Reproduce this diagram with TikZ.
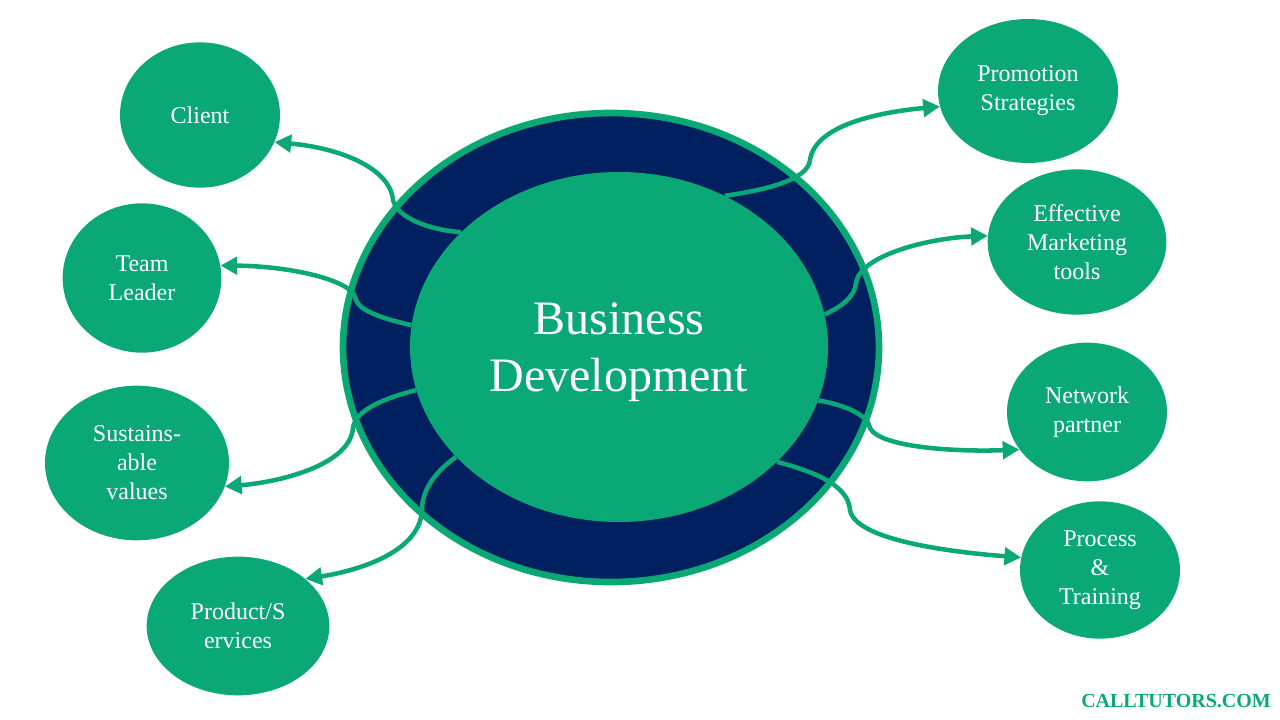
\documentclass[tikz,border=0pt]{standalone}
\usepackage{fontspec}
\setmainfont{Liberation Serif}
\usetikzlibrary{shapes.geometric,arrows.meta}
\definecolor{bgreen}{RGB}{10,168,116}
\definecolor{bnavy}{RGB}{0,32,96}
\tikzset{
  bubble/.style={ellipse, fill=bgreen, inner sep=0pt, align=center, text=white,
    font=\fontsize{18pt}{21.75pt}\selectfont},
  link/.style={draw=bgreen, line width=3.4pt, -{Triangle[length=12.5pt,width=13pt]}},
}
\begin{document}
\begin{tikzpicture}[x=0.75pt,y=-0.75pt]
\useasboundingbox (0,0) rectangle (1280,720);
% central ring
\node[ellipse, draw=bgreen, fill=bnavy, line width=5pt, minimum width=402pt, minimum height=351.75pt, inner sep=0pt] (ring) at (611,347.5) {};
\node[ellipse, fill=bgreen, minimum width=313.5pt, minimum height=262.5pt, inner sep=0pt] (core) at (619,347) {};
\node[align=center, text=white, inner sep=0pt,
  font=\fontsize{36pt}{43pt}\selectfont] (title) at (619,352) {Business\\Development};
% outer bubbles
\node[bubble, minimum width=120pt, minimum height=109pt] (client) at (200,115) {Client};
\node[bubble, minimum width=119pt, minimum height=112pt] (team) at (142,278) {Team\\Leader};
\node[bubble, minimum width=138pt, minimum height=116pt] (sust) at (137,463) {Sustains-\\able\\values};
\node[bubble, minimum width=137pt, minimum height=104pt] (prod) at (238,626) {Product/S\\ervices};
\node[bubble, minimum width=135pt, minimum height=108pt] (promo) at (1028,91) {Promotion\\Strategies};
\node[bubble, minimum width=134pt, minimum height=109pt] (effect) at (1077,242) {Effective\\Marketing\\tools};
\node[bubble, minimum width=120pt, minimum height=104pt] (net) at (1087,412) {Network\\partner};
\node[bubble, minimum width=120pt, minimum height=103pt] (proc) at (1100,570) {Process\\\&\\Training};
% connectors
\draw[link] (core.144.7) .. controls (430,230) and (397,218) .. (393,200)
  .. controls (390,168) and (340,148) .. (client.-20);
\draw[link] (core.174.2) .. controls (380,318) and (357,310) .. (355,297)
  .. controls (350,280) and (290,266) .. (team.9.9);
\draw[link] (core.192.1) .. controls (385,398) and (355,410) .. (353,428)
  .. controls (350,465) and (280,482) .. (sust.-15.7);
\draw[link] (core.214.1) .. controls (435,472) and (422,490) .. (422,510)
  .. controls (420,555) and (350,572) .. (prod.35.6);
\draw[link] (core.55.5) .. controls (765,190) and (808,180) .. (810,160)
  .. controls (815,125) and (880,112) .. (promo.190.7);
\draw[link] (core.9) .. controls (845,305) and (855,295) .. (856,283)
  .. controls (860,255) and (930,238) .. (effect.176.9);
\draw[link] (core.345.2) .. controls (845,405) and (868,415) .. (870,428)
  .. controls (880,448) and (960,452) .. (net.209.3);
\draw[link] (core.324.8) .. controls (815,472) and (848,485) .. (850,510)
  .. controls (855,540) and (950,552) .. (proc.171.4);
% watermark
\node[text=bgreen, font=\bfseries\fontsize{15pt}{18pt}\selectfont, inner sep=0pt] (mark) at (1176,701) {CALLTUTORS.COM};
\end{tikzpicture}
\end{document}
